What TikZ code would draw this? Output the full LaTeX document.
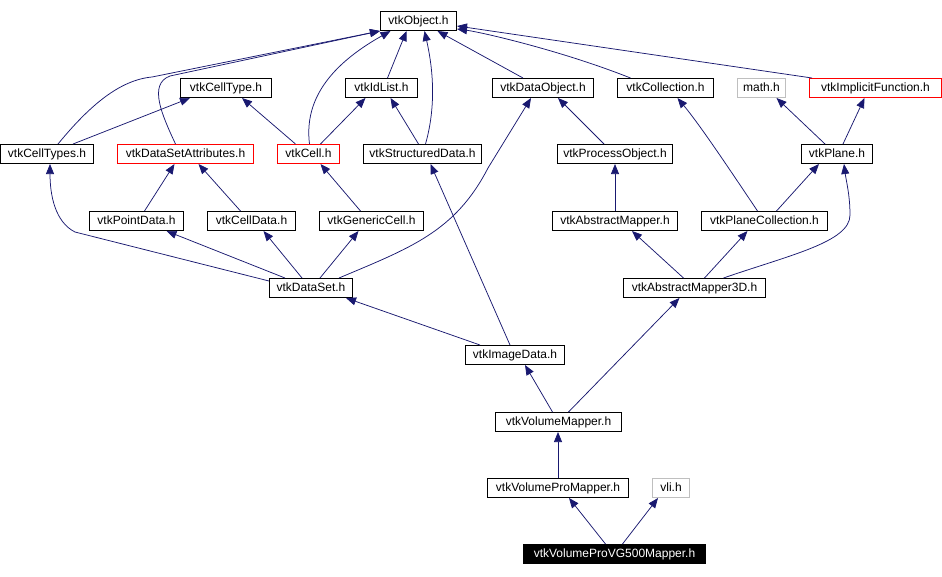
\documentclass[tikz,border=0pt]{standalone}
\usepackage{fontspec}
\setmainfont{Liberation Sans}
\usepackage{xcolor}
\usetikzlibrary{arrows.meta}
\definecolor{edgeblue}{HTML}{191970}
\definecolor{hdrgray}{HTML}{BFBFBF}

\begin{document}
\begin{tikzpicture}[x=1pt, y=-1pt,
    hdr/.style={draw=black, line width=1pt, rectangle, minimum height=19pt, inner sep=0pt,
        text height=8.6pt, text depth=2.4pt, font=\fontsize{12}{14}\selectfont},
    redhdr/.style={hdr, draw=red},
    grayhdr/.style={hdr, draw=hdrgray},
    tophdr/.style={hdr, fill=black, text=white},
    dep/.style={draw=edgeblue, line width=0.75pt, -{Triangle[length=10pt, width=8pt]}, fill=none}]
    \useasboundingbox (0,0) rectangle (942,576);

    %Top
    \node[hdr, minimum width=76pt] (obj) at (418.5,21) {vtkObject.h};

    %Second row
    \node[hdr, minimum width=91pt] (celltype) at (226,88) {vtkCellType.h};
    \node[hdr, minimum width=72pt] (idlist) at (381.5,88) {vtkIdList.h};
    \node[hdr, minimum width=101pt] (dataobj) at (543,88) {vtkDataObject.h};
    \node[hdr, minimum width=96pt] (coll) at (665.5,88) {vtkCollection.h};
    \node[grayhdr, minimum width=48pt] (math) at (761.5,88) {math.h};
    \node[redhdr, minimum width=132pt] (implicit) at (875.5,88) {vtkImplicitFunction.h};

    %Third row
    \node[hdr, minimum width=93pt] (celltypes) at (47,154) {vtkCellTypes.h};
    \node[redhdr, minimum width=136pt] (dsattr) at (185.5,154) {vtkDataSetAttributes.h};
    \node[redhdr, minimum width=62pt] (cell) at (308.5,154) {vtkCell.h};
    \node[hdr, minimum width=118pt] (structured) at (422.5,154) {vtkStructuredData.h};
    \node[hdr, minimum width=115pt] (procobj) at (615,154) {vtkProcessObject.h};
    \node[hdr, minimum width=71pt] (plane) at (837,154) {vtkPlane.h};

    %Fourth row
    \node[hdr, minimum width=94pt] (pointdata) at (136.5,221) {vtkPointData.h};
    \node[hdr, minimum width=88pt] (celldata) at (251.5,221) {vtkCellData.h};
    \node[hdr, minimum width=104pt] (genericcell) at (371.5,221) {vtkGenericCell.h};
    \node[hdr, minimum width=125pt] (absmapper) at (615,221) {vtkAbstractMapper.h};
    \node[hdr, minimum width=126pt] (planecoll) at (764.5,221) {vtkPlaneCollection.h};

    %Lower part
    \node[hdr, minimum width=83pt] (dataset) at (311,288) {vtkDataSet.h};
    \node[hdr, minimum width=142pt] (absmapper3d) at (694.5,288) {vtkAbstractMapper3D.h};
    \node[hdr, minimum width=99pt] (imagedata) at (515,355) {vtkImageData.h};
    \node[hdr, minimum width=126pt] (volmapper) at (558.5,422) {vtkVolumeMapper.h};
    \node[hdr, minimum width=141pt] (volpro) at (558,488) {vtkVolumeProMapper.h};
    \node[grayhdr, minimum width=37pt] (vli) at (671,488) {vli.h};
    \node[tophdr, minimum width=182pt] (vg500) at (614.5,554) {vtkVolumeProVG500Mapper.h};

    %Edges to vtkObject.h
    \draw[dep] ([xshift=11pt]celltypes.north) .. controls (90,105) and (120,80) .. (152,77) -- (obj.south west);
    \draw[dep] ([xshift=-10pt]dsattr.north) .. controls (162,115) and (148,84) .. (170,76) -- (obj.south west);
    \draw[dep] ([xshift=1pt]cell.north) .. controls (304,100) and (330,65) .. ([xshift=-28pt]obj.south);
    \draw[dep] ([xshift=6pt]idlist.north) -- ([xshift=-12pt]obj.south);
    \draw[dep] ([xshift=3pt]structured.north) .. controls (438,100) and (431,60) .. ([xshift=6pt]obj.south);
    \draw[dep] ([xshift=-20pt]dataobj.north) -- ([xshift=19pt]obj.south);
    \draw[dep] ([xshift=-35pt]coll.north) .. controls (560,50) and (480,32) .. ([yshift=-8pt]obj.east);
    \draw[dep] ([xshift=3pt]implicit.north west) -- ([yshift=-5pt]obj.east);

    %Second row edges
    \draw[dep] ([xshift=26pt]celltypes.north) -- ([xshift=-36pt]celltype.south);
    \draw[dep] ([xshift=-13pt]cell.north) -- ([xshift=16pt]celltype.south);
    \draw[dep] ([xshift=12pt]cell.north) -- ([xshift=-16pt]idlist.south);
    \draw[dep] ([xshift=-4pt]structured.north) -- ([xshift=9pt]idlist.south);
    \draw[dep] ([xshift=-11pt]procobj.north) -- ([xshift=15pt]dataobj.south);
    \draw[dep] ([xshift=-7pt]planecoll.north) .. controls (730,170) and (700,125) .. ([xshift=12pt]coll.south);
    \draw[dep] ([xshift=-12pt]plane.north) -- ([xshift=15pt]math.south);
    \draw[dep] ([xshift=6pt]plane.north) -- ([xshift=-11pt]implicit.south);

    %Third row edges
    \draw[dep] ([xshift=8pt]pointdata.north) -- ([xshift=-11pt]dsattr.south);
    \draw[dep] ([xshift=-11pt]celldata.north) -- ([xshift=13pt]dsattr.south);
    \draw[dep] ([xshift=-11pt]genericcell.north) -- ([xshift=12pt]cell.south);
    \draw[dep] (absmapper.north) -- (procobj.south);
    \draw[dep] ([xshift=12pt]planecoll.north) -- ([xshift=-18pt]plane.south);

    %vtkDataSet.h
    \draw[dep] ([yshift=7pt]dataset.west) -- (75,232) .. controls (55,222) and (50,195) .. ([xshift=3pt]celltypes.south);
    \draw[dep] ([xshift=-26pt]dataset.north) -- ([xshift=30pt]pointdata.south);
    \draw[dep] ([xshift=-9pt]dataset.north) -- ([xshift=12pt]celldata.south);
    \draw[dep] ([xshift=9pt]dataset.north) -- ([xshift=-13pt]genericcell.south);
    \draw[dep] ([xshift=28pt]dataset.north) .. controls (410,248) and (455,232) .. (488,168) -- ([xshift=-12pt]dataobj.south);

    %vtkAbstractMapper3D.h
    \draw[dep] ([xshift=-11pt]absmapper3d.north) -- ([xshift=17pt]absmapper.south);
    \draw[dep] ([xshift=10pt]absmapper3d.north) -- ([xshift=-17pt]planecoll.south);
    \draw[dep] ([xshift=29pt]absmapper3d.north) .. controls (790,255) and (850,242) .. (850,215) .. controls (850,195) and (846,180) .. ([xshift=7pt]plane.south);

    %vtkImageData.h
    \draw[dep] ([xshift=-35pt]imagedata.north) -- ([xshift=35pt]dataset.south);
    \draw[dep] ([xshift=-5pt]imagedata.north) -- ([xshift=8pt]structured.south);

    %Bottom part
    \draw[dep] ([xshift=-6pt]volmapper.north) -- ([xshift=10pt]imagedata.south);
    \draw[dep] ([xshift=10pt]volmapper.north) -- ([xshift=-15pt]absmapper3d.south);
    \draw[dep] (volpro.north) -- (volpro.north |- volmapper.south);
    \draw[dep] ([xshift=-9pt]vg500.north) -- ([xshift=11pt]volpro.south);
    \draw[dep] ([xshift=8pt]vg500.north) -- ([xshift=-13pt]vli.south);

\end{tikzpicture}
\end{document}
